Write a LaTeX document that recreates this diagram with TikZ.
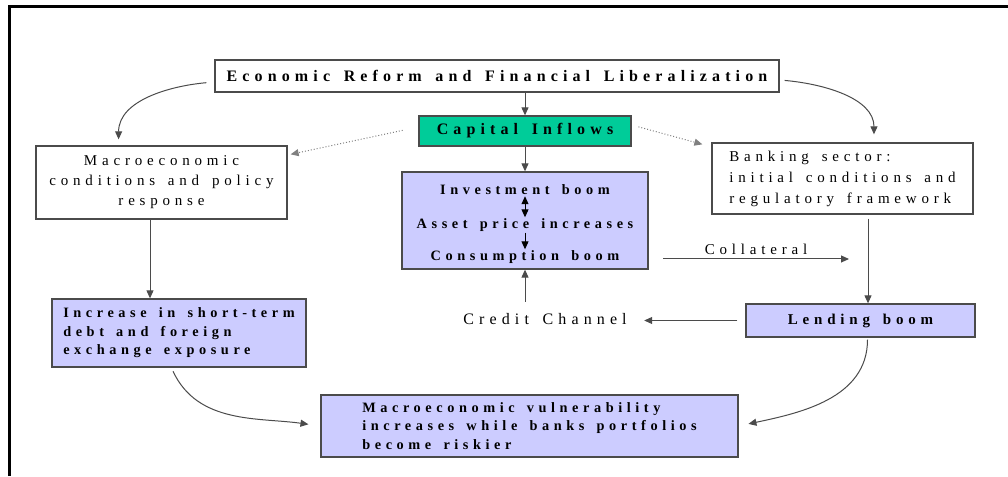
\documentclass[tikz,border=0pt]{standalone}
\usepackage{fontspec}
\setmainfont{Liberation Serif}
\newfontfamily\spacedfont[LetterSpace=32, WordSpace=1.5]{Liberation Serif}
\usetikzlibrary{arrows.meta, positioning, calc}

\definecolor{boomfill}{RGB}{204,204,255}
\definecolor{inflowfill}{RGB}{0,204,153}
\definecolor{edgegray}{RGB}{75,75,75}

\begin{document}
\begin{tikzpicture}[x=1pt, y=1pt, >={Triangle[length=8pt,width=7pt]},
  font=\spacedfont\fontsize{15}{20}\selectfont,
  plainbox/.style={draw=edgegray, line width=1.3pt, fill=white, inner sep=0pt},
  boombox/.style={plainbox, fill=boomfill, font=\spacedfont\bfseries\fontsize{14.3}{18.5}\selectfont},
  boomtext/.style={inner sep=1pt, font=\spacedfont\bfseries\fontsize{14.3}{18}\selectfont},
  headtext/.style={font=\spacedfont\bfseries\fontsize{16}{18}\selectfont},
  flow/.style={->, draw=edgegray, line width=1pt},
  hint/.style={->, draw=gray, line width=1pt, dotted}]

  % --- Page frame (only top and left edges show)
  \useasboundingbox (0,0) rectangle (1008,476);
  \draw[line width=3pt] (9,0) -- (9,469) -- (1008,469);

  % --- Top row
  \node[plainbox, headtext, minimum width=564, minimum height=32] (econ) at (497,400)
    {Economic Reform and Financial Liberalization};
  \node[plainbox, headtext, fill=inflowfill, minimum width=212, minimum height=30] (inflow) at (525,345)
    {Capital Inflows};

  % --- Side boxes
  \node[plainbox, minimum width=251, minimum height=73, align=center] (macro) at (161.5,293.5)
    {Macroeconomic\\conditions and policy\\response};
  \node[plainbox, minimum width=261, minimum height=71, align=left,
        font=\spacedfont\fontsize{15}{21}\selectfont] (bank) at (842.5,297.5)
    {Banking sector:\\initial conditions and\\regulatory framework};

  % --- Boom box in the middle
  \node[boombox, minimum width=246, minimum height=97] (boom) at (525,255.5) {};
  \node[boomtext] (invest) at (525,286) {Investment boom};
  \node[boomtext] (asset) at (525,251) {Asset price increases};
  \node[boomtext] (consume) at (525,219) {Consumption boom};
  \draw[<->, line width=1pt] (invest) -- (asset);
  \draw[->, line width=1pt] (asset) -- (consume);

  % --- Lower row
  \node[boombox, minimum width=254, minimum height=68, align=left] (debt) at (179,143)
    {Increase in short-term\\debt and foreign\\exchange exposure};
  \node[boombox, minimum width=229, minimum height=33,
        font=\spacedfont\bfseries\fontsize{15}{18}\selectfont] (lend) at (860.5,155.5) {Lending boom};
  \node[font=\spacedfont\fontsize{16}{18}\selectfont] (credit) at (545,157) {Credit Channel};
  \node[boombox, minimum width=417, minimum height=62, align=left] (vuln) at (529.5,50)
    {Macroeconomic vulnerability\\increases while banks portfolios\\become riskier};

  % --- Straight links
  \draw[flow] (inflow.north |- econ.south) -- (inflow.north);
  \draw[flow] (inflow.south) -- (boom.north);
  \draw[flow] ([xshift=-11.5pt]macro.south) -- ([xshift=-11.5pt]macro.south |- debt.north);
  \draw[flow] ([xshift=25.5pt,yshift=-4pt]bank.south) -- ([xshift=25.5pt]bank.south |- lend.north);
  \coordinate (collA) at (663,217);
  \coordinate (collB) at (849,217);
  \draw[flow] (collA) -- node[above=1pt] {Collateral} (collB);
  \draw[flow, shorten <=8pt, shorten >=14pt] (lend.west) -- (credit.east |- lend.west);
  \coordinate (credtop) at (525,174);
  \draw[flow] (credtop) -- (boom.south);

  % --- Curved links from the top
  \draw[flow, shorten <=8pt, shorten >=6pt] ([yshift=-6pt]econ.west)
    to[out=185, in=90] ($(macro.north west)!0.33!(macro.north east)$);
  \draw[flow, shorten <=5pt, shorten >=8pt] ([yshift=-4pt]econ.east)
    to[out=-5, in=90] ($(bank.north west)!0.62!(bank.north east)$);

  % --- Dotted hints from the inflows
  \draw[hint, shorten <=16pt] ([yshift=4pt]inflow.west) -- ([xshift=3pt,yshift=-9pt]macro.north east);
  \draw[hint, shorten <=7pt] ([yshift=6pt]inflow.east) -- ([xshift=-9pt,yshift=-2pt]bank.north west);

  % --- Curved links into the vulnerability box
  \draw[flow, shorten <=4pt, shorten >=12pt] ($(debt.south west)!0.47!(debt.south east)$)
    to[out=-65, in=172] (vuln.west);
  \draw[flow, shorten <=2pt, shorten >=10pt] ([xshift=7pt]lend.south)
    to[out=-90, in=12] (vuln.east);
\end{tikzpicture}
\end{document}
